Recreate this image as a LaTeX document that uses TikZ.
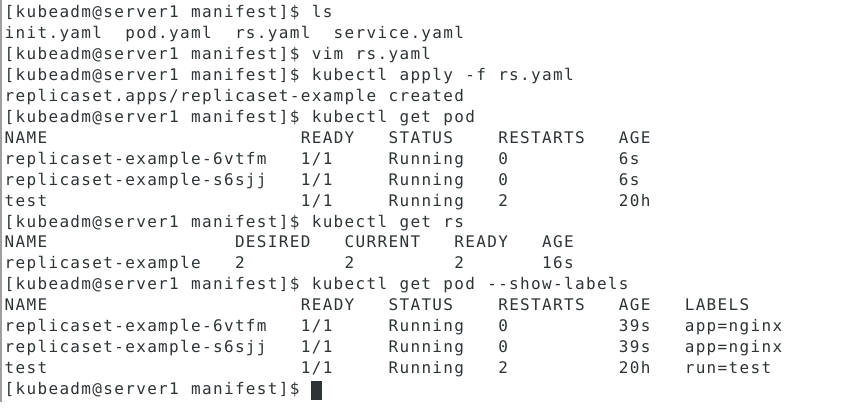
\documentclass[tikz,border=0pt]{standalone}
\usepackage{fontspec}
\newfontfamily\termfont{DejaVu Sans Mono}
\definecolor{termfg}{HTML}{2E3436}
\newlength\cw
\setlength\cw{10.97pt}
\ExplSyntaxOn
\NewDocumentCommand\mono{m}{
  \str_map_inline:nn {#1}
    { \str_if_eq:nnTF {##1} {|} { \makebox[\cw]{} } { \makebox[\cw][c]{##1} } }
}
\ExplSyntaxOff
\tikzset{
  txt/.style={anchor=base west, inner sep=0pt, outer sep=0pt, text=termfg,
    font=\termfont\fontsize{16}{21}\selectfont},
  cursor/.style={fill=termfg, draw=none},
}
\begin{document}
\begin{tikzpicture}[x=1pt,y=1pt]
\useasboundingbox (0,0) rectangle (844,-412);
\fill[white] (0,0) rectangle (844,-412);
\draw[gray!75, line width=1.5pt] (1,0) -- (1,-402);
\def\bl#1{-17.5-20.95*#1}
\node[txt] (l0)  at (4,{\bl{0}})  {\mono{[kubeadm@server1|manifest]$|ls}};
\node[txt] (l1)  at (4,{\bl{1}})  {\mono{init.yaml||pod.yaml||rs.yaml||service.yaml}};
\node[txt] (l2)  at (4,{\bl{2}})  {\mono{[kubeadm@server1|manifest]$|vim|rs.yaml}};
\node[txt] (l3)  at (4,{\bl{3}})  {\mono{[kubeadm@server1|manifest]$|kubectl|apply|-f|rs.yaml}};
\node[txt] (l4)  at (4,{\bl{4}})  {\mono{replicaset.apps/replicaset-example|created}};
\node[txt] (l5)  at (4,{\bl{5}})  {\mono{[kubeadm@server1|manifest]$|kubectl|get|pod}};
\node[txt] (l6)  at (4,{\bl{6}})  {\mono{NAME|||||||||||||||||||||||READY|||STATUS||||RESTARTS|||AGE}};
\node[txt] (l7)  at (4,{\bl{7}})  {\mono{replicaset-example-6vtfm|||1/1|||||Running|||0||||||||||6s}};
\node[txt] (l8)  at (4,{\bl{8}})  {\mono{replicaset-example-s6sjj|||1/1|||||Running|||0||||||||||6s}};
\node[txt] (l9)  at (4,{\bl{9}})  {\mono{test|||||||||||||||||||||||1/1|||||Running|||2||||||||||20h}};
\node[txt] (l10) at (4,{\bl{10}}) {\mono{[kubeadm@server1|manifest]$|kubectl|get|rs}};
\node[txt] (l11) at (4,{\bl{11}}) {\mono{NAME|||||||||||||||||DESIRED|||CURRENT|||READY|||AGE}};
\node[txt] (l12) at (4,{\bl{12}}) {\mono{replicaset-example|||2|||||||||2|||||||||2|||||||16s}};
\node[txt] (l13) at (4,{\bl{13}}) {\mono{[kubeadm@server1|manifest]$|kubectl|get|pod|--show-labels}};
\node[txt] (l14) at (4,{\bl{14}}) {\mono{NAME|||||||||||||||||||||||READY|||STATUS||||RESTARTS|||AGE|||LABELS}};
\node[txt] (l15) at (4,{\bl{15}}) {\mono{replicaset-example-6vtfm|||1/1|||||Running|||0||||||||||39s|||app=nginx}};
\node[txt] (l16) at (4,{\bl{16}}) {\mono{replicaset-example-s6sjj|||1/1|||||Running|||0||||||||||39s|||app=nginx}};
\node[txt] (l17) at (4,{\bl{17}}) {\mono{test|||||||||||||||||||||||1/1|||||Running|||2||||||||||20h|||run=test}};
\node[txt] (l18) at (4,{\bl{18}}) {\mono{[kubeadm@server1|manifest]$|}};
\fill[cursor] (l18.base east) ++(0,14) rectangle ++(\cw,-19) coordinate (cur);
\end{tikzpicture}
\end{document}
